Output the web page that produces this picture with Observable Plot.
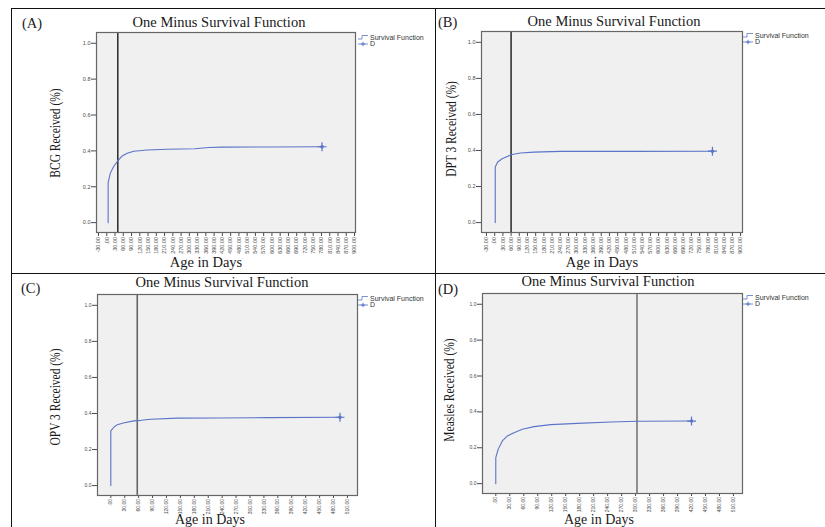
<!DOCTYPE html>
<html>
<head>
<meta charset="utf-8">
<script src="https://cdn.jsdelivr.net/npm/d3@7"></script>
<script src="https://cdn.jsdelivr.net/npm/@observablehq/plot@0.6"></script>
<style>
  html, body { margin: 0; padding: 0; background: #fff; }
  #page { position: relative; width: 825px; height: 527px; overflow: hidden; background: #fff; }
  .abs { position: absolute; }
  .serif { font-family: "Liberation Serif", "DejaVu Serif", serif; color: #1a1a1a; line-height: 1; white-space: nowrap; }
  .title { font-size: 14.5px; transform: translate(-50%, -50%); }
  .xtitle2 { font-size: 14px; transform: translate(-50%, -50%); }
  .plabel { font-size: 14.5px; transform: translate(0, -50%); }
  .ylab { font-size: 14px; transform: translate(-50%, -50%) rotate(-90deg) scaleX(0.82); }
  .line { position: absolute; background: #111; }
  .legend { position: absolute; font-family: "Liberation Sans", Arial, sans-serif; font-size: 7px; color: #333; line-height: 1; white-space: nowrap; }
  .legend .row { display: flex; align-items: center; height: 6.5px; }
  .legend svg { margin-right: 2px; }
</style>
</head>
<body>
<div id="page"></div>
<script>
// ---------- Data ----------
const panelLetters = ["(A)", "(B)", "(C)", "(D)"];
const chartTitle = "One Minus Survival Function";
const yTitles = ["BCG Received (%)", "DPT 3 Received (%)", "OPV 3 Received (%)", "Measles Received (%)"];
const xTitle = "Age in Days";
const legendLabels = ["Survival Function", "D"];

// x tick values (labels shown SPSS-style: .00, 30.00, ...)
const ticksAB = [-30, 0, 30, 60, 90, 120, 150, 180, 210, 240, 270, 300, 330, 360, 390, 420,
                 450, 480, 510, 540, 570, 600, 630, 660, 690, 720, 750, 780, 810, 840, 870, 900];
const ticksCD = [0, 30, 60, 90, 120, 150, 180, 210, 240, 270, 300, 330, 360, 390, 420, 450, 480, 510];
const yTicks = [0, 0.2, 0.4, 0.6, 0.8, 1.0];

// One minus survival curves (age in days, cumulative proportion vaccinated)
const bcgDays   = [5, 5, 13, 25, 40, 56, 74, 98, 147, 219, 320, 370, 420, 600, 782];
const bcgValues = [0, 0.223, 0.276, 0.313, 0.344, 0.372, 0.387, 0.398, 0.405, 0.409, 0.412, 0.419, 0.421, 0.422, 0.423];

const dpt3Days   = [2, 2, 11, 27, 46, 64, 94, 143, 241, 500, 797];
const dpt3Values = [0, 0.308, 0.336, 0.354, 0.367, 0.378, 0.386, 0.391, 0.395, 0.395, 0.396];

const opv3Days   = [0, 0, 7, 14, 29, 50, 65, 86, 144, 230, 338, 494];
const opv3Values = [0, 0.303, 0.325, 0.338, 0.349, 0.359, 0.362, 0.368, 0.374, 0.375, 0.377, 0.379];

const measlesDays   = [0, 0, 5, 14, 25, 39, 57, 82, 118, 175, 247, 304, 420];
const measlesValues = [0, 0.145, 0.191, 0.238, 0.266, 0.284, 0.303, 0.318, 0.329, 0.336, 0.344, 0.348, 0.349];

// Reference (vertical) lines in each panel, in days
const refLines = [40, 60, 57, 303];

// ---------- Layout ----------
const page = document.getElementById("page");
const blue = "#5a74c8";
const fmtX = d => d === 0 ? ".00" : d.toFixed(2);

const panels = [
  {days: bcgDays, values: bcgValues, ticks: ticksAB, xdom: [-37.3, 903.6], ref: refLines[0], refColor: "#333", fs: "5.5px", ts: 4,
   box: {left: 12, top: 9, width: 423, height: 264, mL: 84, mR: 80, mT: 23, mB: 41}},
  {days: dpt3Days, values: dpt3Values, ticks: ticksAB, xdom: [-48.3, 907], ref: refLines[1], refColor: "#333", fs: "5.5px", ts: 4,
   box: {left: 436, top: 9, width: 389, height: 264, mL: 45, mR: 83, mT: 22, mB: 41}},
  {days: opv3Days, values: opv3Values, ticks: ticksCD, xdom: [-28.7, 531.7], ref: refLines[2], refColor: "#666", fs: "5px", ts: 3,
   box: {left: 12, top: 274, width: 423, height: 253, mL: 85, mR: 78, mT: 20, mB: 32}},
  {days: measlesDays, values: measlesValues, ticks: ticksCD, xdom: [-28.5, 529.4], ref: refLines[3], refColor: "#777", fs: "5px", ts: 3,
   box: {left: 436, top: 274, width: 389, height: 253, mL: 46, mR: 83, mT: 19, mB: 34}}
];

panels.forEach((p, i) => {
  const data = p.days.map((d, k) => ({day: d, value: p.values[k]}));
  const last = data[data.length - 1];
  const b = p.box;
  const plot = Plot.plot({
    width: b.width, height: b.height,
    marginLeft: b.mL, marginRight: b.mR, marginTop: b.mT, marginBottom: b.mB,
    style: {background: "transparent", fontFamily: "Liberation Sans, Arial, sans-serif", fontSize: p.fs, color: "#4a4a4a", overflow: "visible"},
    x: {domain: p.xdom},
    y: {domain: [-0.055, 1.06]},
    marks: [
      Plot.frame({fill: "#f0f0f0", stroke: null}),
      Plot.axisY({ticks: yTicks, tickFormat: d => d.toFixed(1), tickSize: 5, tickPadding: 1, label: null}),
      Plot.axisX({ticks: p.ticks, tickFormat: fmtX, tickRotate: -90, tickSize: p.ts, tickPadding: 0.5, label: null}),
      Plot.ruleX([p.ref], {stroke: p.refColor, strokeWidth: 1.6}),
      Plot.line(data, {x: "day", y: "value", stroke: blue, strokeWidth: 1.1}),
      Plot.dot([last], {x: "day", y: "value", r: 1.8, fill: blue, stroke: null}),
      Plot.dot([last], {x: "day", y: "value", r: 3, symbol: "plus", stroke: blue, strokeWidth: 1.2}),
      Plot.frame({stroke: "#666", strokeWidth: 1.2})
    ]
  });
  plot.style.position = "absolute";
  plot.style.left = b.left + "px";
  plot.style.top = b.top + "px";
  page.appendChild(plot);
});

// ---------- Texts ----------
function addText(cls, text, x, y) {
  const d = document.createElement("div");
  d.className = "abs serif " + cls;
  d.style.left = x + "px";
  d.style.top = y + "px";
  d.textContent = text;
  page.appendChild(d);
}
const titlePos = [[219, 22], [614, 21], [222, 281.5], [608, 280.5]];
const letterPos = [[22, 23], [438, 22], [21, 288], [438, 289]];
const yLabPos = [[55.5, 133], [451.5, 128.5], [55.5, 397], [450, 390]];
const xLabPos = [[206, 262], [602, 262], [210, 519.5], [599, 519.5]];
const legendPos = [[358, 34], [743, 32], [358, 295], [743, 294]];

for (let i = 0; i < 4; i++) {
  addText("title", chartTitle, titlePos[i][0], titlePos[i][1]);
  addText("plabel", panelLetters[i], letterPos[i][0], letterPos[i][1]);
  addText("ylab", yTitles[i], yLabPos[i][0], yLabPos[i][1]);
  addText(i < 2 ? "title" : "xtitle2", xTitle, xLabPos[i][0], xLabPos[i][1]);

  const lg = document.createElement("div");
  lg.className = "legend";
  lg.style.left = legendPos[i][0] + "px";
  lg.style.top = legendPos[i][1] + "px";
  lg.innerHTML =
    `<div class="row"><svg width="10" height="6"><path d="M0,5 H4 V1.5 H10" fill="none" stroke="${blue}" stroke-width="0.8"/></svg><span>${legendLabels[0]}</span></div>` +
    `<div class="row"><svg width="10" height="6"><path d="M0,3 H10" fill="none" stroke="${blue}" stroke-width="0.8"/><path d="M5,0.8 V5.2 M2.8,3 H7.2" stroke="${blue}" stroke-width="1"/></svg><span>${legendLabels[1]}</span></div>`;
  page.appendChild(lg);
}

// ---------- Table borders ----------
function addLine(l, t, w, h) {
  const d = document.createElement("div");
  d.className = "line";
  Object.assign(d.style, {left: l + "px", top: t + "px", width: w + "px", height: h + "px"});
  page.appendChild(d);
}
addLine(10.5, 7.5, 815, 1.5);   // top
addLine(10.5, 7.5, 1.5, 520);   // left
addLine(434.5, 7.5, 1.5, 520);  // middle vertical
addLine(10.5, 272.5, 815, 1.5); // middle horizontal
</script>
</body>
</html>
